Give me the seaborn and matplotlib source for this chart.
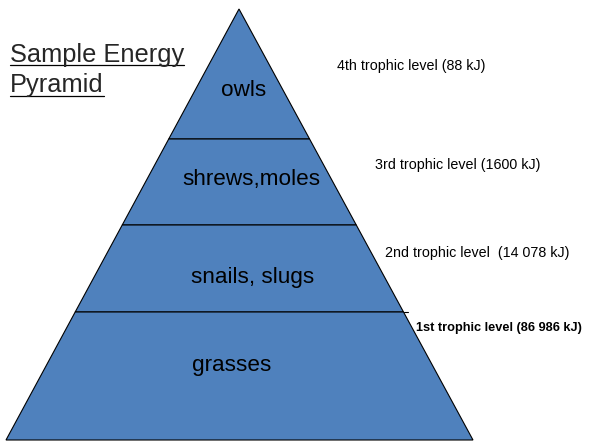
import numpy as np
import seaborn as sns
import matplotlib
matplotlib.use("Agg")
import matplotlib.pyplot as plt

# trophic levels, top to bottom
organisms = ["owls", "shrews,moles", "snails, slugs", "grasses"]
level_labels = ["4th trophic level (88 kJ)",
                "3rd trophic level (1600 kJ)",
                "2nd trophic level  (14 078 kJ)",
                "1st trophic level (86 986 kJ)"]
title_lines = ["Sample Energy", "Pyramid"]

sns.set_theme(style="white")
plt.rcParams["font.family"] = ["Liberation Sans", "DejaVu Sans"]

fig = plt.figure(figsize=(5.89, 4.42), dpi=100)
ax = fig.add_axes([0, 0, 1, 1])
ax.set_xlim(0, 589)
ax.set_ylim(442, 0)
ax.axis("off")

# pyramid geometry (pixel layout)
apex_x, apex_y = 239, 9
base_l, base_r, base_y = 6, 473, 440
cuts = [apex_y, 139, 225, 312, base_y]
fill_col = "#4F81BD"

def edge_x(y, side):
    t = (y - apex_y) / (base_y - apex_y)
    return apex_x + t * ((base_r if side > 0 else base_l) - apex_x)

org_pos = [(244, 91), (251, 180), (253, 278), (232, 365)]
lab_pos = [(337, 66), (375, 165), (385, 253), (416, 328)]

for i, name in enumerate(organisms):
    y0, y1 = cuts[i], cuts[i + 1]
    xs = [edge_x(y0, -1), edge_x(y0, 1), edge_x(y1, 1), edge_x(y1, -1)]
    ys = [y0, y0, y1, y1]
    ax.fill(xs, ys, facecolor=fill_col, edgecolor="black", lw=0.8, zorder=2)
    ax.text(org_pos[i][0], org_pos[i][1], name, fontsize=16.2, color="black",
            ha="center", va="center", zorder=3)
    bold = i == 3
    ax.text(lab_pos[i][0], lab_pos[i][1], level_labels[i],
            fontsize=9.2 if bold else 10.3,
            fontweight="bold" if bold else "normal",
            ha="left", va="center", color="black", zorder=3)

# small overhang of the lowest divider
ax.plot([edge_x(312, 1), 408], [312, 312], color="black", lw=0.8, zorder=2)

# underlined title
fig.canvas.draw()
inv = ax.transData.inverted()
for line, by, uy in zip(title_lines, [62, 92], [65, 96]):
    t = ax.text(10, by, line, fontsize=18.3, ha="left", va="baseline")
    bb = t.get_window_extent(renderer=fig.canvas.get_renderer())
    (x0, _), (x1, _) = inv.transform([[bb.x0, bb.y0], [bb.x1, bb.y1]])
    ax.plot([x0, x1], [uy, uy], color="black", lw=0.9)

fig.savefig("out.png", dpi=100)
